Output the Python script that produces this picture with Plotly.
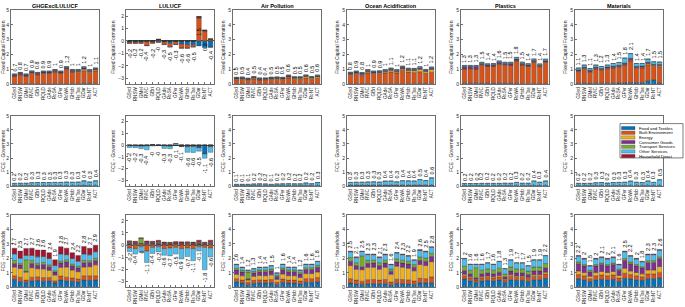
import plotly.graph_objects as go

regions = ["GSyd","RNSW","GMel","RVIC","GBri","RQLD","GAde","RoSA","GPer","RoWA","GHob","RsTas","GDar","RoNT","ACT"]
sectors = ["Food and Textiles","Built Environment","Energy","Consumer Goods","Transport Services","Other Services","Household Direct"]
sector_colors = ["#0072BD","#D95319","#EDB120","#7E2F8E","#77AC30","#4DBEEE","#A2142F"]
indicators = ["GHGExclLULUCF","LULUCF","Air Pollution","Ocean Acidification","Plastics","Materials"]
demand_labels = ["Fixed Capital Formation","FCE - Government","FCE - Households"]

# rows of each array: Food, Built Env, Energy, Consumer Goods, Transport, Other Services, Household Direct
fcf_ghg = [
    [.02,.02,.02,.02,.02,.02,.02,.02,.02,.03,.03,.03,.06,.08,.02],
    [.54,.62,.52,.73,.62,.72,.72,.81,.72,.96,.80,.79,.86,.72,.88],
    [.02,.03,.03,.03,.03,.03,.03,.04,.03,.04,.04,.05,.10,.06,.08],
    [.06,.07,.07,.06,.07,.06,.06,.06,.06,.10,.06,.06,.08,.06,.06],
    [.01,.01,.01,.01,.01,.01,.01,.01,.01,.01,.01,.01,.01,.01,.01],
    [.05,.05,.05,.05,.05,.05,.05,.06,.05,.05,.06,.06,.07,.06,.05],
    [0,0,0,0,0,0,0,0,0,0,0,0,0,0,0]]
fcf_lulucf = [
    [-.08,-.08,-.10,-.05,-.05,.12,-.08,-.20,-.10,-.25,-.30,-.30,-.40,-.55,-.50],
    [-.10,-.10,-.08,-.32,-.12,-.10,-.20,-.28,-.18,-.32,-.28,-.18,1.84,.80,.10],
    [0,0,0,0,0,0,0,0,0,0,0,0,.05,.03,.05],
    [-.02,-.02,-.02,-.03,-.02,-.02,-.02,-.02,-.02,-.03,-.02,-.02,.05,.02,-.02],
    [0,0,0,0,0,0,0,0,0,0,0,0,0,0,0],
    [0,0,0,0,0,0,0,0,0,0,0,0,0,0,0],
    [0,0,0,0,0,0,0,0,0,0,0,0,0,0,0]]
fcf_air = [
    [.01,.01,.01,.01,.01,.01,.01,.01,.01,.01,.01,.01,.03,.03,.01],
    [.30,.32,.26,.36,.28,.30,.32,.34,.31,.42,.34,.33,.40,.32,.40],
    [.05,.05,.05,.05,.04,.04,.05,.05,.05,.06,.06,.07,.10,.07,.10],
    [.06,.06,.05,.05,.05,.04,.05,.05,.05,.08,.05,.05,.05,.05,.05],
    [.01,.01,.01,.01,.01,.01,.01,.01,.01,.01,.01,.01,.01,.01,.01],
    [.04,.04,.03,.04,.04,.03,.04,.04,.04,.04,.04,.04,.04,.04,.05],
    [0,0,0,0,0,0,0,0,0,0,0,0,0,0,0]]
fcf_ocean = [
    [.02,.02,.02,.02,.02,.02,.02,.02,.02,.03,.03,.03,.05,.06,.02],
    [.60,.66,.57,.75,.66,.70,.74,.82,.74,.92,.80,.76,.80,.68,.80],
    [.05,.06,.06,.07,.07,.06,.08,.10,.08,.08,.10,.13,.16,.12,.18],
    [.08,.09,.08,.08,.08,.07,.08,.08,.08,.12,.08,.08,.08,.07,.08],
    [.01,.01,.01,.01,.01,.01,.01,.01,.01,.01,.01,.01,.01,.01,.01],
    [.05,.05,.05,.06,.05,.05,.06,.06,.06,.06,.06,.06,.08,.06,.07],
    [0,0,0,0,0,0,0,0,0,0,0,0,0,0,0]]
fcf_plastics = [
    [.08,.08,.08,.07,.07,.07,.07,.07,.07,.06,.04,.04,.03,.03,.03],
    [.93,.97,.95,1.22,1.13,1.16,1.28,1.22,1.20,1.52,1.26,1.17,1.45,1.16,1.44],
    [.02,.02,.02,.02,.02,.02,.02,.02,.02,.02,.02,.02,.03,.02,.03],
    [.16,.12,.14,.08,.08,.07,.10,.08,.10,.10,.07,.07,.08,.06,.08],
    [.01,.01,.01,.01,.01,.01,.01,.01,.01,.01,.01,.01,.01,.01,.01],
    [.07,.07,.07,.08,.07,.07,.09,.08,.08,.10,.09,.08,.10,.09,.10],
    [0,0,0,0,0,0,0,0,0,0,0,0,0,0,0]]
fcf_materials = [
    [.08,.08,.07,.08,.08,.08,.08,.10,.10,.12,.12,.12,.25,.30,.10],
    [.78,.94,.73,.95,.87,.97,1.02,1.05,1.20,1.45,.96,.98,1.06,.92,1.08],
    [.03,.04,.03,.04,.03,.04,.04,.04,.04,.05,.04,.05,.08,.06,.07],
    [.08,.09,.10,.08,.08,.07,.08,.08,.08,.12,.08,.08,.08,.06,.08],
    [.01,.01,.01,.01,.01,.01,.01,.01,.01,.01,.01,.01,.01,.01,.01],
    [.12,.14,.12,.14,.13,.13,.17,.19,.34,.32,.19,.16,.22,.17,.16],
    [0,0,0,0,0,0,0,0,0,0,0,0,0,0,0]]

gov_ghg = [
    [.01,.01,.01,.01,.01,.01,.01,.01,.01,.01,.01,.01,.02,.01,.01],
    [.01,.01,.01,.01,.01,.01,.01,.01,.01,.01,.01,.01,.01,.01,.01],
    [.01,.01,.01,.01,.01,.01,.01,.01,.01,.01,.01,.01,.01,.01,.01],
    [.01,.01,.01,.01,.01,.01,.01,.01,.01,.01,.01,.01,.01,.01,.01],
    [.01,.01,.01,.01,.01,.01,.01,.01,.01,.01,.01,.01,.01,.01,.01],
    [.16,.17,.17,.21,.22,.22,.22,.23,.23,.25,.24,.25,.33,.26,.34],
    [0,0,0,0,0,0,0,0,0,0,0,0,0,0,0]]
gov_lulucf = [
    [-.02,-.03,-.05,-.02,.04,-.01,-.02,-.03,.02,-.02,-.05,-.05,-.15,-.70,-.05],
    [-.02,-.02,-.03,-.03,-.02,-.02,-.03,-.05,-.02,-.08,-.08,-.06,-.05,-.05,-.08],
    [0,0,0,0,0,0,0,0,0,0,0,0,0,0,0],
    [-.01,-.01,-.01,-.01,-.01,-.01,-.01,-.01,-.01,-.01,-.01,-.01,-.01,-.01,-.01],
    [0,0,0,0,0,0,0,0,0,0,0,0,0,0,0],
    [-.15,-.15,-.21,-.34,-.05,0,-.22,-.22,.12,-.02,-.47,-.50,-.30,-.35,-.47],
    [0,0,0,0,0,0,0,0,0,0,0,0,0,0,0]]
gov_air = [
    [.01,.01,.01,.01,.01,.01,.01,.01,.01,.01,.01,.01,.01,.01,.01],
    [.01,.01,.01,.01,.01,.01,.01,.01,.01,.01,.01,.01,.01,.01,.01],
    [.01,.01,.01,.01,.01,.01,.01,.01,.01,.01,.01,.01,.01,.01,.01],
    [.01,.01,.01,.01,.01,.01,.01,.01,.01,.01,.01,.01,.01,.01,.01],
    [.01,.01,.01,.01,.01,.01,.01,.01,.01,.01,.01,.01,.01,.01,.01],
    [.09,.09,.09,.12,.13,.12,.09,.12,.13,.14,.13,.13,.19,.14,.22],
    [0,0,0,0,0,0,0,0,0,0,0,0,0,0,0]]
gov_ocean = [
    [.02,.02,.02,.02,.02,.02,.02,.02,.02,.02,.02,.02,.02,.02,.02],
    [.02,.02,.02,.02,.02,.02,.02,.02,.02,.02,.02,.02,.02,.02,.02],
    [.02,.02,.02,.02,.02,.02,.02,.02,.02,.02,.02,.02,.02,.02,.02],
    [.01,.01,.01,.01,.01,.01,.01,.01,.01,.01,.01,.01,.01,.01,.01],
    [.01,.01,.01,.01,.01,.01,.01,.01,.01,.01,.01,.01,.01,.01,.01],
    [.20,.21,.21,.23,.24,.22,.29,.30,.24,.32,.31,.30,.40,.33,.52],
    [0,0,0,0,0,0,0,0,0,0,0,0,0,0,0]]
gov_plastics = [
    [.01,.01,.01,.01,.01,.01,.01,.01,.01,.01,.01,.01,.01,.01,.01],
    [.01,.01,.01,.01,.01,.01,.01,.01,.01,.01,.01,.01,.01,.01,.01],
    [.01,.01,.01,.01,.01,.01,.01,.01,.01,.01,.01,.01,.01,.01,.01],
    [.01,.01,.01,.01,.01,.01,.01,.01,.01,.01,.01,.01,.01,.01,.01],
    [.01,.01,.01,.01,.01,.01,.01,.01,.01,.01,.01,.01,.01,.01,.01],
    [.15,.15,.15,.16,.16,.16,.16,.17,.17,.23,.17,.17,.33,.24,.33],
    [0,0,0,0,0,0,0,0,0,0,0,0,0,0,0]]
gov_materials = [
    [.01,.01,.01,.01,.01,.01,.01,.01,.01,.01,.01,.01,.01,.01,.01],
    [.01,.01,.01,.01,.01,.01,.01,.01,.01,.01,.01,.01,.01,.01,.01],
    [.01,.01,.01,.01,.01,.01,.01,.01,.01,.01,.01,.01,.01,.01,.01],
    [.01,.01,.01,.01,.01,.01,.01,.01,.01,.01,.01,.01,.01,.01,.01],
    [.01,.01,.01,.01,.01,.01,.01,.01,.01,.01,.01,.01,.01,.01,.01],
    [.16,.16,.16,.21,.22,.18,.22,.23,.24,.32,.24,.22,.33,.23,.42],
    [0,0,0,0,0,0,0,0,0,0,0,0,0,0,0]]

hh_ghg = [
    [.55,.40,.35,.45,.48,.42,.45,.30,.50,.45,.42,.38,.50,.48,.50],
    [.25,.30,.15,.25,.25,.25,.22,.15,.28,.25,.22,.20,.30,.32,.30],
    [.60,.60,.55,.65,.55,.60,.50,.40,.60,.70,.55,.50,.60,.62,.75],
    [.25,.25,.05,.30,.25,.30,.25,.20,.30,.35,.28,.25,.30,.30,.30],
    [.20,.10,.80,.20,.12,.15,.12,.10,.12,.15,.12,.12,.15,.12,.15],
    [.45,.35,.30,.35,.45,.40,.45,.35,.50,.35,.40,.35,.45,.40,.45],
    [.40,.50,.48,.50,.48,.45,.40,.40,.50,.45,.40,.40,.52,.46,.45]]
hh_lulucf = [
    [.08,.06,.05,.06,.06,.08,.04,.04,.05,.04,.05,.04,.08,.04,.06],
    [-.25,-.30,-.15,-.50,-.20,-.15,-.30,-.25,-.20,-.30,-.25,-.30,-.15,-.20,-.25],
    [.05,.04,.04,.04,.04,.05,.03,.03,.04,.03,.03,.03,.05,.03,.05],
    [.10,.08,.05,.08,.08,.10,.06,.05,.07,.06,.07,.05,.08,.06,.10],
    [.05,.05,.40,.05,.05,.06,.04,.04,.05,.04,.05,.04,.06,.04,.06],
    [-.30,-.45,-.45,-.95,-.50,-.42,-.55,-.65,-.55,-.85,-.70,-1.00,-.35,-1.85,-.75],
    [.07,.08,.06,.11,.08,.10,.08,.07,.07,.09,.07,.08,.13,.06,.13]]
hh_air = [
    [.38,.30,.20,.28,.32,.30,.32,.20,.35,.30,.30,.25,.35,.35,.38],
    [.22,.20,.15,.20,.20,.20,.22,.15,.22,.20,.20,.18,.25,.25,.30],
    [.30,.30,.15,.28,.30,.30,.32,.20,.35,.30,.30,.25,.35,.35,.38],
    [.30,.25,.10,.22,.25,.28,.28,.20,.30,.28,.28,.25,.28,.28,.32],
    [.12,.12,.45,.12,.12,.12,.12,.08,.12,.12,.12,.10,.12,.12,.14],
    [.25,.20,.12,.18,.18,.18,.22,.15,.24,.18,.18,.15,.23,.23,.26],
    [.03,.03,.03,.02,.03,.02,.02,.02,.02,.02,.02,.02,.02,.02,.02]]
hh_ocean = [
    [.30,.25,.22,.25,.26,.25,.26,.18,.28,.26,.25,.22,.30,.30,.32],
    [.30,.25,.20,.28,.28,.25,.28,.18,.28,.28,.27,.22,.32,.30,.40],
    [.90,.75,.80,.85,.85,.75,.85,.55,.90,.85,.80,.70,.95,.90,1.05],
    [.30,.25,.20,.28,.28,.25,.28,.20,.28,.28,.28,.25,.30,.30,.35],
    [.25,.20,.75,.20,.20,.20,.20,.15,.22,.20,.20,.18,.22,.22,.22],
    [.40,.35,.30,.40,.38,.35,.38,.30,.40,.38,.35,.30,.45,.43,.42],
    [.05,.05,.03,.04,.05,.05,.05,.04,.04,.05,.05,.03,.06,.05,.04]]
hh_plastics = [
    [.58,.45,.35,.45,.48,.45,.50,.35,.52,.48,.48,.42,.52,.52,.62],
    [.22,.20,.15,.20,.22,.20,.22,.17,.25,.22,.22,.20,.25,.25,.30],
    [.10,.08,.05,.08,.08,.08,.10,.06,.10,.08,.08,.07,.10,.10,.12],
    [.25,.20,.10,.20,.22,.20,.22,.15,.25,.22,.22,.20,.25,.25,.30],
    [.30,.25,.70,.25,.27,.25,.28,.20,.28,.27,.27,.23,.28,.28,.30],
    [.52,.40,.23,.40,.41,.40,.46,.35,.48,.41,.41,.36,.48,.48,.54],
    [.03,.02,.02,.02,.02,.02,.02,.02,.02,.02,.02,.02,.02,.02,.02]]
hh_materials = [
    [.58,.52,.40,.52,.55,.52,.55,.42,.62,.58,.52,.48,.60,.60,.65],
    [.30,.28,.20,.28,.30,.28,.30,.22,.35,.30,.28,.25,.32,.32,.38],
    [.25,.22,.17,.22,.24,.22,.24,.18,.35,.25,.22,.20,.28,.28,.40],
    [.50,.45,.30,.45,.48,.45,.48,.35,.55,.50,.45,.40,.52,.52,.55],
    [.12,.10,.10,.10,.10,.10,.10,.08,.12,.12,.10,.09,.12,.12,.12],
    [.40,.38,.30,.38,.38,.38,.38,.31,.46,.40,.38,.34,.41,.41,.45],
    [.05,.05,.03,.05,.05,.05,.05,.04,.05,.05,.05,.04,.05,.05,.05]]

panels = [
    [fcf_ghg, fcf_lulucf, fcf_air, fcf_ocean, fcf_plastics, fcf_materials],
    [gov_ghg, gov_lulucf, gov_air, gov_ocean, gov_plastics, gov_materials],
    [hh_ghg, hh_lulucf, hh_air, hh_ocean, hh_plastics, hh_materials],
]

# ---- layout geometry (pixels of a 685x307 page) ----
FW, FH = 685, 307
col_left = [11, 126, 233, 347, 461, 575]
col_w = 88
row_tb = [(7, 83), (115, 187), (216, 290)]
FONT = "Liberation Sans, Arial, sans-serif"
AXC = "#6e6e6e"

def fmt(v):
    r = round(v, 1)
    s = f"{r:.1f}"
    if s.endswith(".0"):
        s = s[:-2]
    return s

fig = go.Figure()
annotations = []
layout_axes = {}

for r in range(3):
    for c in range(6):
        k = r * 6 + c + 1
        xa = "x" if k == 1 else f"x{k}"
        ya = "y" if k == 1 else f"y{k}"
        data = panels[r][c]
        for s in range(7):
            fig.add_trace(go.Bar(
                x=regions, y=data[s], xaxis=xa, yaxis=ya,
                name=sectors[s], marker_color=sector_colors[s],
                marker_line=dict(color="#333333", width=0.35),
                showlegend=False, hoverinfo="skip"))
        x0 = col_left[c] / FW
        x1 = (col_left[c] + col_w) / FW
        top, bot = row_tb[r]
        y0 = (FH - bot) / FH
        y1 = (FH - top) / FH
        is_lulucf = indicators[c] == "LULUCF"
        layout_axes["xaxis" if k == 1 else f"xaxis{k}"] = dict(
            domain=[x0, x1], anchor=ya, type="category",
            categoryorder="array", categoryarray=regions,
            tickmode="array", tickvals=regions, ticktext=regions,
            range=[-0.6, 14.6], tickangle=-90,
            tickfont=dict(size=4.6, family=FONT, color="#262626"),
            showline=True, mirror=True, linecolor=AXC, linewidth=1,
            ticks="inside", ticklen=2, tickcolor=AXC, showgrid=False,
            zeroline=False)
        layout_axes["yaxis" if k == 1 else f"yaxis{k}"] = dict(
            domain=[y0, y1], anchor=xa,
            range=[-3.5, 2.5] if is_lulucf else [0, 5],
            tickmode="linear", tick0=0, dtick=1,
            tickfont=dict(size=5, family=FONT, color="#262626"),
            showline=True, mirror=True, linecolor=AXC, linewidth=1,
            ticks="inside", ticklen=2, tickcolor=AXC, showgrid=False,
            zeroline=is_lulucf, zerolinecolor="#262626", zerolinewidth=0.8,
            title=dict(text=demand_labels[r], font=dict(size=5, family=FONT, color="#262626"),
                       standoff=2))
        if r == 0:
            annotations.append(dict(
                text=f"<b>{indicators[c]}</b>", x=(x0 + x1) / 2, y=y1,
                xref="paper", yref="paper", xanchor="center", yanchor="bottom",
                yshift=-1, showarrow=False,
                font=dict(size=5.5, family=FONT, color="#000000")))
        # value labels (net total of each bar)
        for i in range(len(regions)):
            vals = [data[s][i] for s in range(7)]
            pos = sum(v for v in vals if v > 0)
            neg = sum(v for v in vals if v < 0)
            net = pos + neg
            label = fmt(net)
            if is_lulucf:
                ypos, yanc, ysh = net, "top", -4
            else:
                ypos, yanc, ysh = pos, "bottom", 1
            annotations.append(dict(
                text=label, x=regions[i], y=ypos, xref=xa, yref=ya,
                textangle=-90, xanchor="center", yanchor=yanc, yshift=ysh,
                showarrow=False, font=dict(size=5.5, family=FONT, color="#000000")))

# ---- custom legend in row 2 / column 6 ----
lx0, lx1, ly0, ly1 = 620, 683, 123, 158
shapes = [dict(type="rect", xref="paper", yref="paper",
               x0=lx0 / FW, x1=lx1 / FW, y0=(FH - ly1) / FH, y1=(FH - ly0) / FH,
               line=dict(color="#262626", width=0.6), fillcolor="white", layer="above")]
for s in range(7):
    yc = 127.6 + s * 4.75
    shapes.append(dict(type="rect", xref="paper", yref="paper",
                       x0=621.5 / FW, x1=635 / FW,
                       y0=(FH - (yc + 1.7)) / FH, y1=(FH - (yc - 1.7)) / FH,
                       line=dict(color="#333333", width=0.3),
                       fillcolor=sector_colors[s], layer="above"))
    annotations.append(dict(text=sectors[s], x=636.5 / FW, y=(FH - yc) / FH,
                            xref="paper", yref="paper", xanchor="left", yanchor="middle",
                            showarrow=False,
                            font=dict(size=4.3, family=FONT, color="#000000")))

fig.update_layout(
    width=FW, height=FH, margin=dict(l=0, r=0, t=0, b=0),
    paper_bgcolor="white", plot_bgcolor="white",
    barmode="relative", bargap=0.2,
    showlegend=False, annotations=annotations, shapes=shapes,
    font=dict(family=FONT, size=5),
    **layout_axes)

fig.write_html("out.html",
               config={"displayModeBar": False, "staticPlot": True},
               post_script="document.body.style.margin='0px';document.body.style.padding='0px';document.body.style.overflow='hidden';")
